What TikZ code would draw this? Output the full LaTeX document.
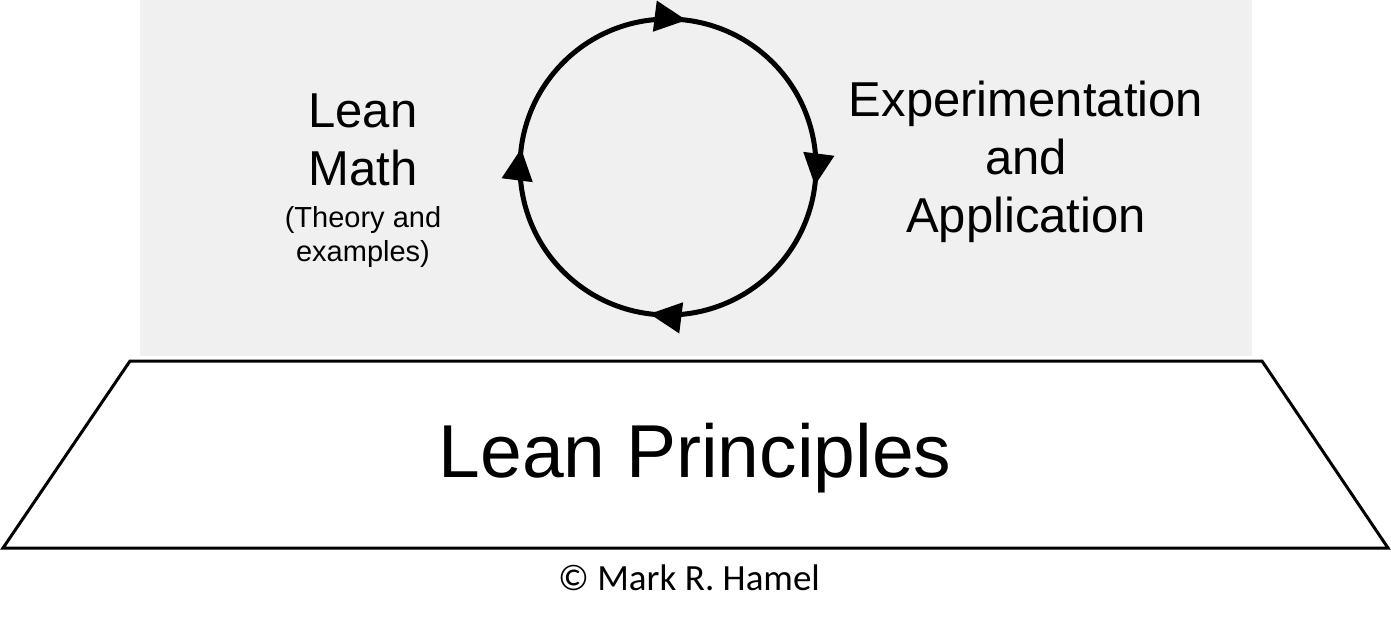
\documentclass[tikz,border=0pt]{standalone}
\usepackage{fontspec}
\setmainfont{Liberation Sans}
\newfontfamily\carlitofont{Carlito}
\usetikzlibrary{decorations.markings,arrows.meta}
\begin{document}
\begin{tikzpicture}[x=1pt,y=-1pt,
  lbl/.style={align=center,font=\fontsize{49}{58}\selectfont},
  small/.style={align=center,font=\fontsize{29}{34}\selectfont}]
\useasboundingbox (0,0) rectangle (1391,625);
\fill[black!6] (140,0) rectangle (1252,356);
\draw[line width=3pt] (130,361) -- (1262,361) -- (1388,548) -- (3,548) -- cycle;
\node (lp) at (695,458) {\fontsize{75}{80}\selectfont Lean Principles};
\node (cr) at (689,578) {\carlitofont\fontsize{37}{40}\selectfont © Mark R. Hamel};
\draw[line width=5pt, postaction={decorate}, decoration={markings,
  mark=at position 0.145 with {\arrow{Triangle[length=32pt,width=30pt]}},
  mark=at position 0.395 with {\arrow{Triangle[length=32pt,width=30pt]}},
  mark=at position 0.645 with {\arrow{Triangle[length=32pt,width=30pt]}},
  mark=at position 0.895 with {\arrow{Triangle[length=32pt,width=30pt]}}}]
  (668,167) ++(135:148) arc[start angle=135,end angle=495,radius=148];
\node[lbl] (lm) at (363,140) {Lean\\Math};
\node[small] (te) at (363,237) {(Theory and\\examples)};
\node[lbl] (ea) at (1026,162) {Experimentation\\and\\Application};
\end{tikzpicture}
\end{document}
